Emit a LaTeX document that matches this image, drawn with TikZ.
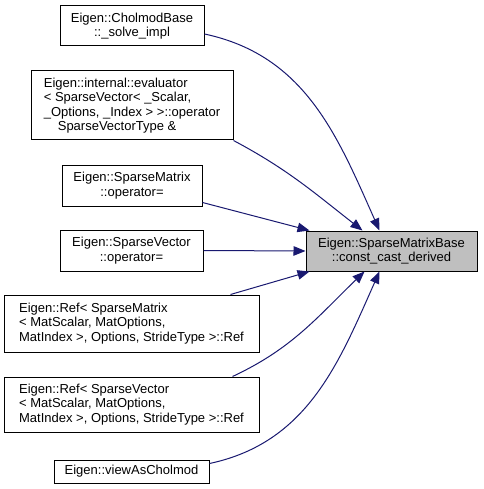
\documentclass[tikz,border=0pt]{standalone}
\usepackage{fontspec}
\setmainfont{Liberation Sans}
\usepackage{xcolor}
\usetikzlibrary{arrows.meta}
\definecolor{edgeblue}{RGB}{25,25,112}
\tikzset{
  fnbox/.style={
    draw=black, fill=white, line width=1pt,
    inner sep=0pt, align=center,
    font=\fontsize{13}{14.5}\selectfont
  },
  curbox/.style={fnbox, fill=black!25},
  arrow/.style={-{Triangle[length=12pt,width=9.5pt]}, draw=edgeblue, line width=1pt}
}

\begin{document}
\begin{tikzpicture}[x=1pt, y=-1pt]
\useasboundingbox (0,0) rectangle (483,489);

%% Callers
\node[fnbox, minimum width=144pt, minimum height=40pt] (cholmod) at (132,26)
  {Eigen::CholmodBase\\::\_solve\_impl};
\node[fnbox, minimum width=202pt, minimum height=69pt, align=left] (evaluator) at (132,105.5)
  {Eigen::internal::evaluator\\\textless{} SparseVector\textless{} \_Scalar,\\ \_Options, \_Index \textgreater{} \textgreater{}::operator\\\hspace*{14pt}SparseVectorType \&};
\node[fnbox, minimum width=140pt, minimum height=41pt] (spmat) at (132,185.5)
  {Eigen::SparseMatrix\\::operator=};
\node[fnbox, minimum width=143pt, minimum height=41pt] (spvec) at (131.5,250.5)
  {Eigen::SparseVector\\::operator=};
\node[fnbox, minimum width=255pt, minimum height=57pt, align=left] (refmat) at (131.5,323.5)
  {Eigen::Ref\textless{} SparseMatrix\\\textless{} MatScalar, MatOptions,\\ MatIndex \textgreater, Options, StrideType \textgreater::Ref};
\node[fnbox, minimum width=255pt, minimum height=55pt, align=left] (refvec) at (131.5,404.5)
  {Eigen::Ref\textless{} SparseVector\\\textless{} MatScalar, MatOptions,\\ MatIndex \textgreater, Options, StrideType \textgreater::Ref};
\node[fnbox, minimum width=155pt, minimum height=23pt] (view) at (131.5,471.5)
  {Eigen::viewAsCholmod};

%% Called function
\node[curbox, minimum width=171pt, minimum height=40pt] (base) at (391.5,251)
  {Eigen::SparseMatrixBase\\::const\_cast\_derived};

%% Call edges
\draw[arrow] ([yshift=-8pt]cholmod.east) to[out=-12, in=114] ([xshift=74pt]base.north west);
\draw[arrow] (evaluator.south east) to[out=-28, in=142] ([xshift=57pt]base.north west);
\draw[arrow] ([yshift=-17pt]spmat.east) -- ([xshift=4pt]base.north west);
\draw[arrow] (spvec.east) -- (base.west);
\draw[arrow] ([xshift=-29pt]refmat.north east) -- ([xshift=4pt]base.south west);
\draw[arrow] ([xshift=-27pt]refvec.north east) to[out=25, in=-136] ([xshift=59pt]base.south west);
\draw[arrow] ([yshift=8pt]view.east) to[out=12, in=-114] ([xshift=74pt]base.south west);
\end{tikzpicture}
\end{document}
